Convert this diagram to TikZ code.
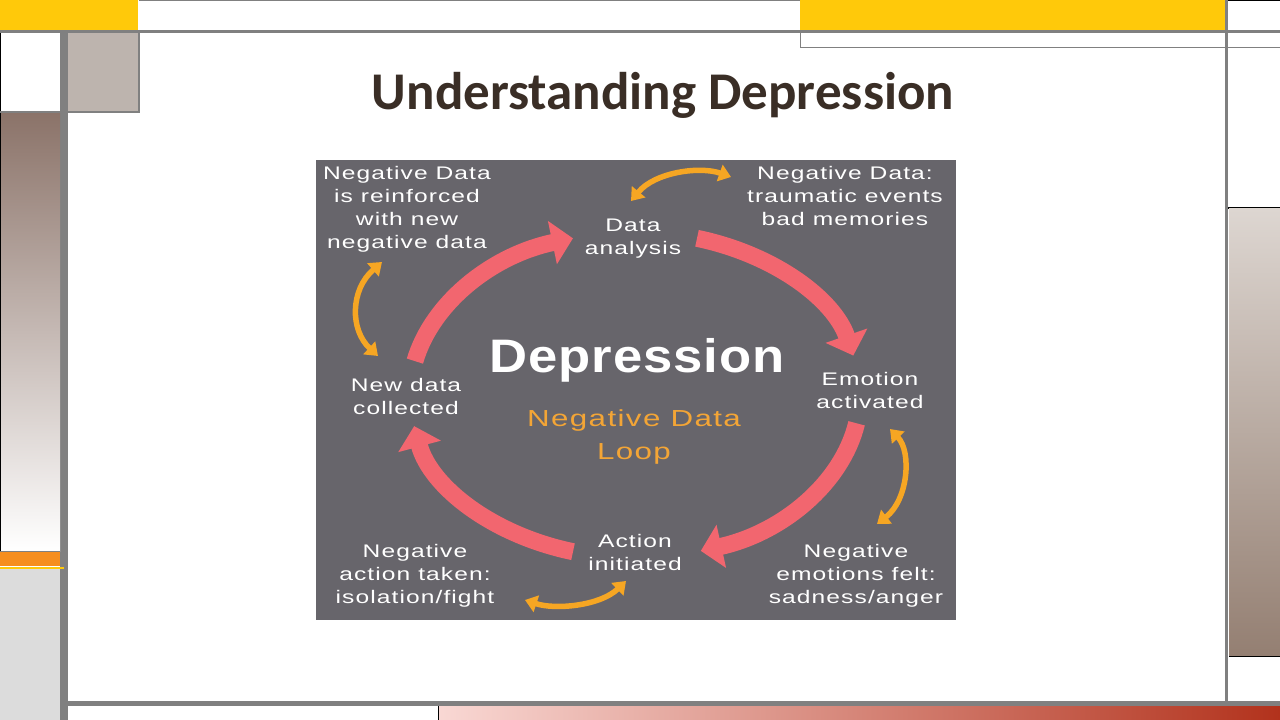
\documentclass[tikz,border=0pt]{standalone}
\usepackage{fontspec}
\usetikzlibrary{arrows.meta}
\newfontfamily\titlefont{Carlito}
\newfontfamily\labfont[FakeStretch=1.35,LetterSpace=6]{Liberation Sans}
\newfontfamily\bigfont[FakeStretch=1.12,LetterSpace=2]{Liberation Sans}
\definecolor{yel}{HTML}{FFC90A}
\definecolor{gry}{HTML}{808080}
\definecolor{taupe}{HTML}{BDB4AE}
\definecolor{brn}{HTML}{8B7369}
\definecolor{brnmid}{HTML}{CEC5C1}
\definecolor{orstrip}{HTML}{F68E1E}
\definecolor{lgry}{HTML}{DCDCDC}
\definecolor{pinkl}{HTML}{F9D8D4}
\definecolor{redd}{HTML}{B2321C}
\definecolor{rtop}{HTML}{DDD6D1}
\definecolor{rbot}{HTML}{947F72}
\definecolor{panel}{HTML}{67656B}
\definecolor{titlec}{HTML}{3A2E26}
\definecolor{redc}{HTML}{F2666F}
\definecolor{orc}{HTML}{F6A623}
\definecolor{ortext}{HTML}{F3A536}
\begin{document}
\begin{tikzpicture}[x=1pt,y=-1pt,
  lab/.style={font=\labfont\fontsize{18.2}{23}\selectfont, text=white, align=center, inner sep=0pt, anchor=base},
  redarr/.style={draw=redc, line width=17pt, -{Triangle[length=21pt,width=43pt]}},
  orarr/.style={draw=orc, line width=5.5pt, {Triangle[length=12pt,width=17pt]}-{Triangle[length=12pt,width=17pt]}}]
\useasboundingbox (0,0) rectangle (1280,720);
\fill[white] (0,0) rectangle (1280,720);
% ---- frame: top
\fill[yel] (0,0) rectangle (138,30);
\draw[gry, line width=1pt] (139,0.5) -- (800,0.5);
\fill[yel] (800,0) rectangle (1225,30);
\draw[black, line width=1pt] (1228,0.5) -- (1280,0.5);
\draw[gry, line width=3pt] (0,31.5) -- (1280,31.5);
\draw[gry, line width=1.5pt] (800.5,33) -- (800.5,47.5) -- (1280,47.5);
\draw[gry, line width=3pt] (1226.5,0) -- (1226.5,704);
% ---- frame: left
\draw[gry, line width=8pt] (64,33) -- (64,720);
\draw[black, line width=1pt] (0.5,33) -- (0.5,112);
\fill[taupe] (68,33) rectangle (138,111);
\draw[gry, line width=2pt] (68,112) -- (139,112) -- (139,33);
\draw[gry, line width=2pt] (0,112) -- (60,112);
\shade[top color=brn, middle color=brnmid, bottom color=white] (0,113) rectangle (60,551);
\draw[black, line width=1pt] (0.5,113) -- (0.5,551);
\draw[gry, line width=1.5pt] (0,551.5) -- (60,551.5);
\fill[orstrip] (0,552) rectangle (60,566);
\draw[yel, line width=2pt] (0,567.5) -- (64,567.5);
\fill[lgry] (0,569) rectangle (60,720);
% ---- frame: bottom
\draw[gry, line width=5pt] (68,703.5) -- (1280,703.5);
\shade[left color=pinkl, right color=redd] (438,706) rectangle (1280,720);
\draw[black, line width=1pt] (438,706) -- (438,720);
% ---- frame: right
\draw[black, line width=2pt] (1228,207.5) -- (1280,207.5);
\shade[top color=rtop, bottom color=rbot] (1229,208.5) rectangle (1280,656);
\draw[black, line width=1.5pt] (1229,656.5) -- (1280,656.5);
% ---- title
\node[font=\titlefont\bfseries\fontsize{53}{60}\selectfont, text=titlec, inner sep=0pt, anchor=base] (title) at (663,109) {Understanding Depression};
% ---- panel
\fill[panel] (316,160) rectangle (956,620);
% ---- centre texts
\node[font=\bigfont\bfseries\fontsize{47}{56}\selectfont, text=white, inner sep=0pt, anchor=base] (dep) at (637,372) {Depression};
\node[font=\labfont\fontsize{23.2}{33}\selectfont, text=ortext, align=center, inner sep=0pt, anchor=base] (loop) at (634,459) {Negative Data\\Loop};
% ---- cycle labels (anchor = baseline of last line)
\node[lab] (analysis) at (633,254) {Data\\analysis};
\node[lab] (emotion) at (870,408) {Emotion\\activated};
\node[lab] (action) at (635,570) {Action\\initiated};
\node[lab] (newdata) at (406,414) {New data\\collected};
\node[lab] (reinf) at (407,248) {Negative Data\\is reinforced\\with new\\negative data};
\node[lab] (trauma) at (845,225) {Negative Data:\\traumatic events\\bad memories};
\node[lab] (felt) at (856,603) {Negative\\emotions felt:\\sadness/anger};
\node[lab] (taken) at (415,603) {Negative\\action taken:\\isolation/fight};
% ---- red loop arrows
\coordinate (r1s) at (414.9,361.1);
\coordinate (r2s) at (697.0,238.3);
\coordinate (r3s) at (856.6,423.3);
\coordinate (r4s) at (573.0,551.7);
\draw[redarr] (r1s) arc[start angle=-168, end angle=-106, x radius=225, y radius=163];
\draw[redarr] (r2s) arc[start angle=-74, end angle=-14, x radius=225, y radius=163];
\draw[redarr] (r3s) arc[start angle=10, end angle=73, x radius=225, y radius=163];
\draw[redarr] (r4s) arc[start angle=106, end angle=169, x radius=225, y radius=163];
% ---- orange double arrows
\coordinate (o1a) at (631,201);
\coordinate (o1b) at (731,177);
\coordinate (o2a) at (382,262);
\coordinate (o2b) at (378,356);
\coordinate (o3a) at (890,429);
\coordinate (o3b) at (877,524);
\coordinate (o4a) at (525,600);
\coordinate (o4b) at (626,581);
\draw[orarr] (o1a) .. controls (655,172) and (700,166) .. (o1b);
\draw[orarr] (o2a) .. controls (350,290) and (350,330) .. (o2b);
\draw[orarr] (o3a) .. controls (912,452) and (908,500) .. (o3b);
\draw[orarr] (o4a) .. controls (555,610) and (600,606) .. (o4b);
\end{tikzpicture}
\end{document}
